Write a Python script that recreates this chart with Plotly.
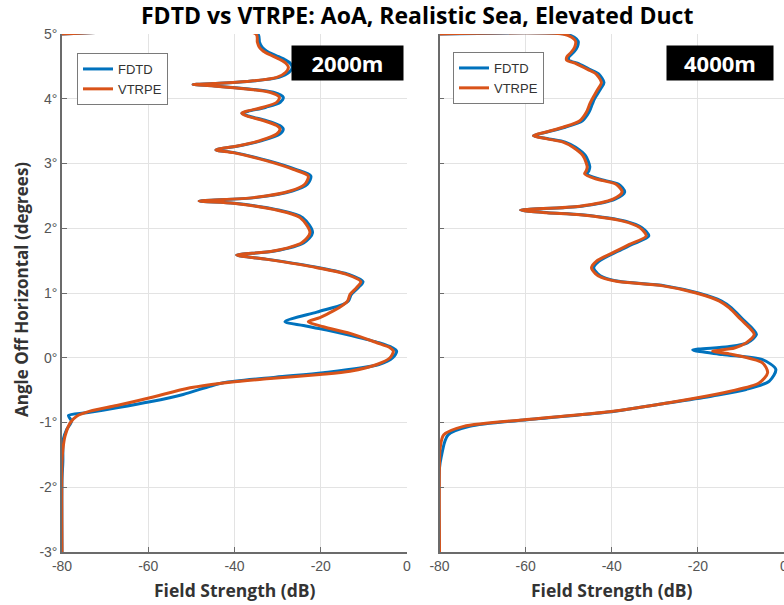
import plotly.graph_objects as go

# ---------------- data ----------------
# Left panel (2000 m): angle (deg) and field strength (dB)
l_vt_ang = [5.00, 4.999, 4.873, 4.795, 4.734, 4.668, 4.606, 4.549, 4.486, 4.41, 4.33, 4.266, 4.235, 4.22,
            4.198, 4.152, 4.10, 4.023, 3.946, 3.869, 3.807, 3.776, 3.734, 3.663, 3.586, 3.533, 3.456,
            3.354, 3.277, 3.209, 3.168, 3.04, 2.91, 2.807, 2.68, 2.575, 2.473, 2.42, 2.385, 2.292,
            2.164, 1.932, 1.777, 1.648, 1.586, 1.519, 1.391, 1.287, 1.175, 1.082, 0.978, 0.875,
            0.78, 0.70, 0.62, 0.556, 0.479, 0.376, 0.232, 0.155, 0.102, 0.0, -0.104, -0.207, -0.258,
            -0.325, -0.377, -0.464, -0.618, -0.737, -0.825, -0.903, -1.005, -1.21, -1.417, -1.6, -3.00]
l_vt_db = [-80, -35.0, -34.7, -34.25, -33.3, -31.4, -29.45, -28.1, -27.5, -28.1, -30.2, -37.2, -44.9, -49.6,
           -44.9, -37.2, -31.8, -29.6, -30.2, -33.3, -37.2, -38.3, -37.2, -33.3, -30.2, -29.45, -30.2,
           -34.1, -38.7, -44.3, -40.3, -32.5, -26.4, -22.9, -23.7, -27.1, -35.6, -48.2, -40.3, -31.0,
           -24.8, -22.5, -24.4, -31.0, -39.5, -32.5, -20.9, -14.0, -10.7, -11.7, -13.2, -13.8,
           -15.6, -17.8, -20.2, -22.9, -19.4, -13.2, -7.0, -3.94, -3.17, -3.94, -7.0, -13.2, -20.2,
           -32.5, -41.0, -50.3, -59.6, -67.3, -73.5, -76.6, -78.1, -79.3, -79.8, -80, -80]

l_fd_ang = [5.00, 4.999, 4.873, 4.795, 4.734, 4.668, 4.606, 4.549, 4.48, 4.41, 4.33, 4.266, 4.235, 4.22,
            4.198, 4.152, 4.10, 4.023, 3.946, 3.869, 3.807, 3.776, 3.734, 3.663, 3.586, 3.533, 3.456,
            3.354, 3.277, 3.209, 3.168, 3.04, 2.91, 2.807, 2.68, 2.575, 2.473, 2.42, 2.385, 2.292,
            2.164, 1.932, 1.777, 1.648, 1.586, 1.519, 1.391, 1.287, 1.175, 1.082, 0.978, 0.875,
            0.824, 0.705, 0.556, 0.499, 0.427, 0.345, 0.232, 0.155, 0.102, 0.0, -0.104, -0.232, -0.30,
            -0.386, -0.44, -0.567, -0.68, -0.773, -0.85, -0.892, -0.98, -1.108, -1.263, -1.6, -1.9, -3.00]
l_fd_db = [-80, -34.6, -34.2, -33.6, -32.5, -30.4, -28.4, -27.1, -26.6, -27.3, -29.7, -37.0, -44.9, -49.6,
           -44.6, -36.6, -31.0, -28.7, -29.4, -32.7, -36.8, -38.3, -36.8, -32.6, -29.5, -28.7, -29.5,
           -33.6, -38.5, -44.3, -40.0, -32.0, -25.8, -22.3, -23.1, -26.6, -35.2, -48.2, -40.0, -30.5,
           -24.2, -21.9, -23.9, -30.7, -39.5, -32.2, -20.4, -13.5, -10.2, -11.3, -12.9, -13.6,
           -14.8, -20.9, -28.3, -24.0, -18.6, -13.2, -6.5, -3.4, -2.4, -3.3, -6.5, -19.4, -30.5,
           -42.6, -45.7, -51.9, -59.6, -67.3, -74.3, -78.5, -77.8, -78.9, -79.7, -79.8, -80, -80]

# Right panel (4000 m)
r_vt_ang = [5.00, 4.999, 4.95, 4.89, 4.80, 4.72, 4.65, 4.60, 4.54, 4.45, 4.38, 4.25, 4.15, 4.00, 3.92,
            3.79, 3.66, 3.56, 3.49, 3.43, 3.38, 3.33, 3.25, 3.12, 2.95, 2.89, 2.84, 2.76, 2.68,
            2.56, 2.45, 2.34, 2.28, 2.24, 2.21, 2.11, 2.01, 1.88, 1.75, 1.65, 1.49, 1.39, 1.30,
            1.24, 1.18, 1.11, 1.00, 0.875, 0.77, 0.59, 0.44, 0.36, 0.23, 0.15, 0.10, 0.06,
            -0.08, -0.23, -0.39, -0.52, -0.62, -0.825, -0.95, -1.06, -1.19, -1.37, -1.60, -3.00]
r_vt_db = [-80, -51.3, -49.3, -48.4, -48.6, -49.4, -50.4, -50.5, -48.2, -45.5, -43.6, -42.4, -43.2, -44.5, -45.1,
           -45.9, -47.4, -51.3, -55, -58.2, -55, -51.3, -49, -46.7, -45.7, -45.9, -46.3, -43.6, -39,
           -37.6, -39.7, -47.4, -61.2, -55.1, -47.4, -37.4, -33.5, -32, -35.9, -38.9, -43.6, -44.7, -43.8,
           -42.4, -38.9, -28.1, -20.4, -15, -12.7, -10, -7.7, -6.9, -8.8, -11.5, -16.6, -12.7,
           -5, -3.8, -5.8, -12.7, -20.4, -39.7, -59, -74.4, -79, -79.8, -80, -80]

r_fd_ang = [5.00, 4.999, 4.95, 4.89, 4.80, 4.72, 4.65, 4.60, 4.54, 4.45, 4.38, 4.25, 4.15, 4.00, 3.92,
            3.79, 3.66, 3.56, 3.49, 3.43, 3.38, 3.33, 3.25, 3.12, 2.95, 2.89, 2.84, 2.76, 2.68,
            2.56, 2.45, 2.34, 2.28, 2.24, 2.21, 2.11, 2.01, 1.88, 1.75, 1.65, 1.49, 1.39, 1.30,
            1.24, 1.18, 1.11, 1.00, 0.875, 0.77, 0.59, 0.44, 0.36, 0.23, 0.17, 0.12, 0.05,
            -0.03, -0.18, -0.36, -0.49, -0.59, -0.70, -0.825, -0.95, -1.06, -1.19, -1.30, -1.50, -1.70, -3.00]
r_fd_db = [-80, -50.8, -48.7, -47.8, -48.0, -48.8, -49.9, -50, -47.6, -45, -43, -41.8, -42.6, -44, -44.5,
           -45.3, -46.8, -50.8, -54.8, -58.2, -54.6, -50.8, -48.4, -46.1, -45.1, -45.3, -45.7, -43, -38.4,
           -37, -39.2, -47, -61.2, -54.8, -47, -36.8, -33, -31.4, -35.3, -38.4, -43, -44.2, -43.3,
           -41.9, -38.4, -27.6, -19.9, -14.5, -12.2, -9.5, -7.2, -6.4, -8.5, -13, -21.2, -14.3,
           -5, -1.9, -3.4, -8.8, -16.6, -27, -39.2, -58.5, -73, -78, -78.8, -79.5, -80, -80]

y_tickvals = [-3, -2, -1, 0, 1, 2, 3, 4, 5]
y_ticktext = ["-3°", "-2°", "-1°", "0°", "1°", "2°", "3°", "4°", "5°"]
x_tickvals = [-80, -60, -40, -20, 0]
x_ticktext = ["-80", "-60", "-40", "-20", "0"]

BLUE = "#0072BD"
ORANGE = "#D95319"

fig = go.Figure()

def add_pair(fd_db, fd_ang, vt_db, vt_ang, xa, ya, legend):
    fig.add_trace(go.Scatter(x=fd_db, y=fd_ang, mode="lines", name="FDTD",
                             line=dict(color=BLUE, width=3, shape="spline", smoothing=0.8),
                             xaxis=xa, yaxis=ya, legend=legend, cliponaxis=False))
    fig.add_trace(go.Scatter(x=vt_db, y=vt_ang, mode="lines", name="VTRPE",
                             line=dict(color=ORANGE, width=3, shape="spline", smoothing=0.8),
                             xaxis=xa, yaxis=ya, legend=legend, cliponaxis=False))

add_pair(l_fd_db, l_fd_ang, l_vt_db, l_vt_ang, "x", "y", "legend")
add_pair(r_fd_db, r_fd_ang, r_vt_db, r_vt_ang, "x2", "y2", "legend2")

W, H = 784, 605
ydom = [1 - 552 / H, 1 - 34 / H]
tickfont = dict(family="Liberation Sans, Arial, sans-serif", size=14, color="#555555")

xcommon = dict(range=[-80, 0], tickvals=x_tickvals, ticktext=x_ticktext, showgrid=True,
               gridcolor="#e3e3e3", gridwidth=1, zeroline=False, showline=True, linecolor="#6b6b6b",
               linewidth=1.5, ticks="inside", ticklen=5, tickcolor="#6b6b6b", tickfont=tickfont,
               fixedrange=True, automargin=False, ticklabeloverflow="allow")
ycommon = dict(range=[-3, 5], tickvals=y_tickvals, ticktext=y_ticktext, showgrid=True,
               gridcolor="#e3e3e3", gridwidth=1, zeroline=False, showline=True, linecolor="#6b6b6b",
               linewidth=1.5, ticks="inside", ticklen=5, tickcolor="#6b6b6b", tickfont=tickfont,
               domain=ydom, fixedrange=True, automargin=False)

legend_common = dict(bgcolor="white", bordercolor="#7a7a7a", borderwidth=1,
                     font=dict(family="Liberation Sans, Arial, sans-serif", size=13, color="#333333"),
                     xanchor="left", yanchor="top", tracegroupgap=0)

fig.update_layout(
    width=W, height=H,
    margin=dict(l=0, r=0, t=0, b=0, autoexpand=False),
    paper_bgcolor="white", plot_bgcolor="white",
    xaxis=dict(domain=[62 / W, 407 / W], anchor="y", **xcommon),
    yaxis=dict(anchor="x", **ycommon),
    xaxis2=dict(domain=[439.5 / W, 1.0], anchor="y2", **xcommon),
    yaxis2=dict(anchor="x2", showticklabels=False, **ycommon),
    legend=dict(x=77 / W, y=1 - 53 / H, **legend_common),
    legend2=dict(x=453 / W, y=1 - 52 / H, **legend_common),
    showlegend=True,
)

bold_font = "Open Sans, Lato, sans-serif"
annotations = [
    dict(text="<b>FDTD vs VTRPE: AoA, Realistic Sea, Elevated Duct</b>", x=417 / W, y=1 - 15 / H,
         xref="paper", yref="paper", showarrow=False, xanchor="center", yanchor="middle",
         font=dict(family=bold_font, size=23, color="black")),
    dict(text="<b>Field Strength (dB)</b>", x=235 / W, y=1 - 590 / H, xref="paper", yref="paper",
         showarrow=False, xanchor="center", yanchor="middle",
         font=dict(family=bold_font, size=17.5, color="#333333")),
    dict(text="<b>Field Strength (dB)</b>", x=612 / W, y=1 - 590 / H, xref="paper", yref="paper",
         showarrow=False, xanchor="center", yanchor="middle",
         font=dict(family=bold_font, size=17.5, color="#333333")),
    dict(text="<b>Angle Off Horizontal (degrees)</b>", x=21 / W, y=1 - 290 / H, xref="paper", yref="paper",
         showarrow=False, xanchor="center", yanchor="middle", textangle=-90,
         font=dict(family=bold_font, size=17, color="#333333")),
    dict(text="<b>2000m</b>", x=347.5 / W, y=1 - 63 / H, xref="paper", yref="paper",
         showarrow=False, xanchor="center", yanchor="middle", bgcolor="black",
         width=105, height=28, borderpad=3,
         font=dict(family=bold_font, size=22, color="white")),
    dict(text="<b>4000m</b>", x=720 / W, y=1 - 63 / H, xref="paper", yref="paper",
         showarrow=False, xanchor="center", yanchor="middle", bgcolor="black",
         width=100, height=28, borderpad=3,
         font=dict(family=bold_font, size=22, color="white")),
]
fig.update_layout(annotations=annotations)

fig.write_html("out.html")
